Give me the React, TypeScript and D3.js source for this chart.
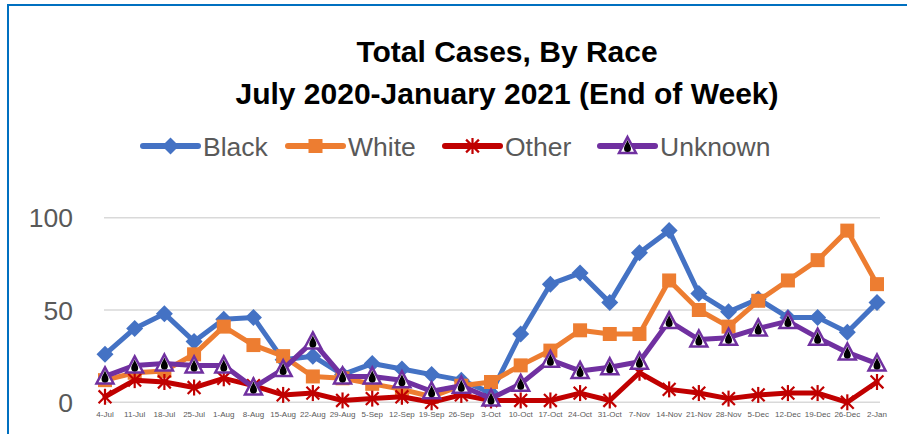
import React from "react";
import * as d3 from "d3";

const categories = [
  "4-Jul", "11-Jul", "18-Jul", "25-Jul", "1-Aug", "8-Aug", "15-Aug", "22-Aug", "29-Aug",
  "5-Sep", "12-Sep", "19-Sep", "26-Sep", "3-Oct", "10-Oct", "17-Oct", "24-Oct", "31-Oct",
  "7-Nov", "14-Nov", "21-Nov", "28-Nov", "5-Dec", "12-Dec", "19-Dec", "26-Dec", "2-Jan",
];
const black = [26, 40, 48, 33, 45, 46, 23, 25, 15, 21, 18, 15, 12, 5, 37, 64, 70, 54, 81, 93, 59, 49, 56, 46, 46, 38, 54];
const white = [12, 16, 17, 26, 41, 31, 25, 14, 13, 10, 7, 3, 9, 11, 20, 28, 39, 37, 37, 66, 50, 41, 55, 66, 77, 93, 64];
const other = [3, 12, 11, 8, 13, 9, 4, 5, 1, 2, 3, 0, 4, 1, 1, 1, 5, 1, 16, 7, 5, 2, 4, 5, 5, 0, 11];
const unknown = [14, 20, 21, 20, 20, 8, 18, 33, 14, 14, 12, 6, 9, 2, 10, 23, 17, 19, 22, 44, 34, 35, 40, 44, 35, 27, 21];
const seriesNames = ["Black", "White", "Other", "Unknown"];
const yTicks = [0, 50, 100];
const titleLines = ["Total Cases, By Race", "July 2020-January 2021 (End of Week)"];

const COLORS = ["#4472C4", "#ED7D31", "#C00000", "#7030A0"];
const FONT = "'Liberation Sans', Arial, sans-serif";
const legendX = [143, 288, 445, 600];

function Marker({ kind, x, y }: { kind: number; x: number; y: number }) {
  const c = COLORS[kind];
  if (kind === 0) {
    return <path d="M0,-8.5L8.5,0L0,8.5L-8.5,0Z" fill={c} transform={`translate(${x},${y})`} />;
  }
  if (kind === 1) {
    return <rect x={x - 7} y={y - 7} width={14} height={14} fill={c} />;
  }
  if (kind === 2) {
    const r = 8;
    const d = r * 0.8;
    return (
      <g transform={`translate(${x},${y})`} stroke={c} strokeWidth={2.2}>
        <line x1={0} y1={-r} x2={0} y2={r} />
        <line x1={-d} y1={-d} x2={d} y2={d} />
        <line x1={-d} y1={d} x2={d} y2={-d} />
      </g>
    );
  }
  return (
    <g transform={`translate(${x},${y})`}>
      <path d="M0,-9L8.5,7L-8.5,7Z" fill="#fff" stroke={c} strokeWidth={2.5} strokeLinejoin="miter" />
      <path d="M0,-6C1.5,-2 3.5,0 3.5,2.5A3.5,3.5 0 1 1 -3.5,2.5C-3.5,0 -1.5,-2 0,-6Z" fill="#000" />
    </g>
  );
}

export default function App() {
  const W = 907;
  const H = 434;
  const x = d3.scalePoint<string>().domain(categories).range([105, 877]);
  const y = d3.scaleLinear().domain([0, 100]).range([402.3, 217.7]);
  const data = [black, white, other, unknown];
  const line = d3
    .line<number>()
    .x((_, i) => x(categories[i]) as number)
    .y((v) => y(v));

  return (
    <svg width={W} height={H} style={{ position: "absolute", left: 0, top: 0, background: "#fff" }}>
      <rect x={0} y={0} width={W} height={H} fill="#fff" />
      <rect x={8} y={5} width={W + 20} height={H + 20} fill="none" stroke="#0070C0" strokeWidth={2} />
      {titleLines.map((t, i) => (
        <text key={t} x={507} y={62 + i * 42} textAnchor="middle" fontFamily={FONT} fontWeight="bold" fontSize={30} fill="#000">
          {t}
        </text>
      ))}
      {seriesNames.map((n, i) => {
        const x0 = legendX[i];
        return (
          <g key={n}>
            <line x1={x0} x2={x0 + 55} y1={146} y2={146} stroke={COLORS[i]} strokeWidth={6} strokeLinecap="round" />
            <Marker kind={i} x={x0 + 27.5} y={146} />
            <text x={x0 + 60} y={156} fontFamily={FONT} fontSize={26.5} fill="#595959">
              {n}
            </text>
          </g>
        );
      })}
      {yTicks.map((t) => (
        <g key={t}>
          <line x1={104} x2={880} y1={y(t)} y2={y(t)} stroke="#D9D9D9" strokeWidth={1.5} />
          <text x={73} y={y(t) + 9.5} textAnchor="end" fontFamily={FONT} fontSize={26.5} fill="#595959">
            {t}
          </text>
        </g>
      ))}
      {categories.map((c) => (
        <text key={c} x={x(c)} y={416.5} textAnchor="middle" fontFamily={FONT} fontSize={8} fill="#595959">
          {c}
        </text>
      ))}
      {data.map((s, k) => (
        <g key={k}>
          <path d={line(s) || ""} fill="none" stroke={COLORS[k]} strokeWidth={5} strokeLinejoin="round" strokeLinecap="round" />
          {s.map((v, i) => (
            <Marker key={i} kind={k} x={x(categories[i]) as number} y={y(v)} />
          ))}
        </g>
      ))}
    </svg>
  );
}
